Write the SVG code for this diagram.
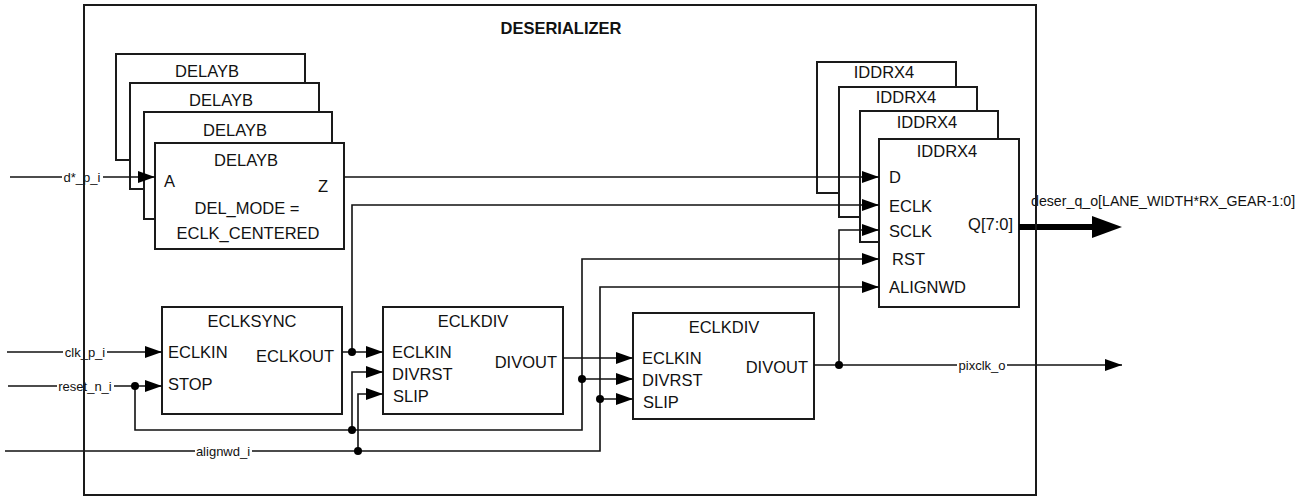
<svg xmlns="http://www.w3.org/2000/svg" width="1308" height="498" viewBox="0 0 1308 498">
<style>
.blk{fill:#fff;stroke:#1a1a1a;stroke-width:2}
.frame{fill:none;stroke:#1a1a1a;stroke-width:2}
.t{font-family:"Liberation Sans",Arial,sans-serif;font-size:16.5px;fill:#111}
.c{text-anchor:middle}
.e{text-anchor:end}
.title{font-family:"Liberation Sans",Arial,sans-serif;font-size:16.5px;font-weight:bold;fill:#111;text-anchor:middle}
.w{fill:none;stroke:#111;stroke-width:1.6}
.bus{fill:none;stroke:#000;stroke-width:6}
.dot{fill:#000}
.bg{fill:#fff;stroke:none}
.lbl{font-family:"Liberation Sans",Arial,sans-serif;font-size:13px;fill:#111;text-anchor:middle}
.lblo{font-family:"Liberation Sans",Arial,sans-serif;font-size:14.2px;fill:#111}
</style>
<defs>
<marker id="arr" markerUnits="userSpaceOnUse" markerWidth="17" markerHeight="12" refX="17" refY="6" orient="auto">
<path d="M0,0 L17,6 L0,12 z" fill="#000"/>
</marker>
</defs>

<g id="delayb_stack">
<g id="delayb3"><rect class="blk" x="116" y="54" width="189" height="106"/><text class="t c" x="207" y="77">DELAYB</text></g>
<g id="delayb2"><rect class="blk" x="130" y="83" width="189" height="106"/><text class="t c" x="221" y="106">DELAYB</text></g>
<g id="delayb1"><rect class="blk" x="144" y="112" width="188" height="107"/><text class="t c" x="235" y="136">DELAYB</text></g>
<g id="delayb0"><rect class="blk" x="155" y="143" width="189" height="106"/>
<text class="t c" x="246" y="166">DELAYB</text>
<text class="t" x="164" y="187">A</text>
<text class="t" x="318" y="192">Z</text>
<text class="t c" x="247" y="214">DEL_MODE =</text>
<text class="t c" x="248" y="239">ECLK_CENTERED</text>
</g>
</g>

<g id="iddrx4_stack">
<g id="iddrx4_3"><rect class="blk" x="817" y="62" width="139" height="131"/><text class="t c" x="884" y="78">IDDRX4</text></g>
<g id="iddrx4_2"><rect class="blk" x="839" y="87" width="138" height="130"/><text class="t c" x="906" y="103">IDDRX4</text></g>
<g id="iddrx4_1"><rect class="blk" x="860" y="111" width="138" height="131"/><text class="t c" x="927" y="128">IDDRX4</text></g>
<g id="iddrx4_0"><rect class="blk" x="879" y="139" width="140" height="168"/>
<text class="t c" x="947" y="157">IDDRX4</text>
<text class="t" x="889" y="183">D</text>
<text class="t" x="889" y="212">ECLK</text>
<text class="t" x="889" y="237">SCLK</text>
<text class="t" x="892" y="265">RST</text>
<text class="t" x="889" y="293">ALIGNWD</text>
<text class="t e" x="1013" y="230">Q[7:0]</text>
</g>
</g>

<g id="eclksync">
<rect class="blk" x="162" y="307" width="180" height="107"/>
<text class="t c" x="252" y="327">ECLKSYNC</text>
<text class="t" x="168" y="358">ECLKIN</text>
<text class="t" x="168" y="390">STOP</text>
<text class="t e" x="334" y="362">ECLKOUT</text>
</g>

<g id="eclkdiv1">
<rect class="blk" x="383" y="307" width="180" height="107"/>
<text class="t c" x="473" y="327">ECLKDIV</text>
<text class="t" x="392" y="358">ECLKIN</text>
<text class="t" x="392" y="380">DIVRST</text>
<text class="t" x="393" y="402">SLIP</text>
<text class="t e" x="557" y="368">DIVOUT</text>
</g>

<g id="eclkdiv2">
<rect class="blk" x="633" y="313" width="181" height="106"/>
<text class="t c" x="724" y="333">ECLKDIV</text>
<text class="t" x="642" y="364">ECLKIN</text>
<text class="t" x="642" y="386">DIVRST</text>
<text class="t" x="643" y="408">SLIP</text>
<text class="t e" x="808" y="373">DIVOUT</text>
</g>

<g id="connectors">
<path class="w" d="M10,177 H155" marker-end="url(#arr)"/>
<path class="w" d="M344,177 H879" marker-end="url(#arr)"/>
<path class="w" d="M7,352 H162" marker-end="url(#arr)"/>
<path class="w" d="M8,386 H162" marker-end="url(#arr)"/>
<path class="w" d="M135,386 V430 H582 V259 H879" marker-end="url(#arr)"/>
<path class="w" d="M352,430 V372 H383" marker-end="url(#arr)"/>
<path class="w" d="M5,451 H600 V287 H879" marker-end="url(#arr)"/>
<path class="w" d="M358,451 V394 H383" marker-end="url(#arr)"/>
<path class="w" d="M342,352 H383" marker-end="url(#arr)"/>
<path class="w" d="M352,352 V205 H879" marker-end="url(#arr)"/>
<path class="w" d="M563,358 H633" marker-end="url(#arr)"/>
<path class="w" d="M582,379 H633" marker-end="url(#arr)"/>
<path class="w" d="M600,399 H633" marker-end="url(#arr)"/>
<path class="w" d="M814,365 H1122" marker-end="url(#arr)"/>
<path class="w" d="M839,365 V230 H879" marker-end="url(#arr)"/>
<path class="bus" d="M1019,227 H1094"/>
<path d="M1092,216 L1122,227 L1092,238 z" fill="#000"/>
<circle class="dot" cx="135" cy="386" r="4"/>
<circle class="dot" cx="352" cy="352" r="4"/>
<circle class="dot" cx="352" cy="430" r="4"/>
<circle class="dot" cx="358" cy="451" r="4"/>
<circle class="dot" cx="582" cy="379" r="4"/>
<circle class="dot" cx="600" cy="399" r="4"/>
<circle class="dot" cx="839" cy="365" r="4"/>
<rect class="bg" x="62" y="171" width="41" height="14"/>
<text class="lbl" x="82" y="181.5">d*_p_i</text>
<rect class="bg" x="63" y="346" width="44" height="14"/>
<text class="lbl" x="85" y="356.5">clk_p_i</text>
<rect class="bg" x="57" y="380" width="57" height="14"/>
<text class="lbl" x="85" y="390.5">reset_n_i</text>
<rect class="bg" x="195" y="445" width="57" height="14"/>
<text class="lbl" x="223" y="455.5">alignwd_i</text>
<rect class="bg" x="957" y="359" width="50" height="14"/>
<text class="lbl" x="982" y="369.5">pixclk_o</text>
<text class="lblo" x="1031" y="206">deser_q_o[LANE_WIDTH*RX_GEAR-1:0]</text>
</g>

<g id="deserializer">
<rect class="frame" x="84" y="5" width="952" height="490"/>
<text class="title" x="561" y="34">DESERIALIZER</text>
</g>
</svg>
